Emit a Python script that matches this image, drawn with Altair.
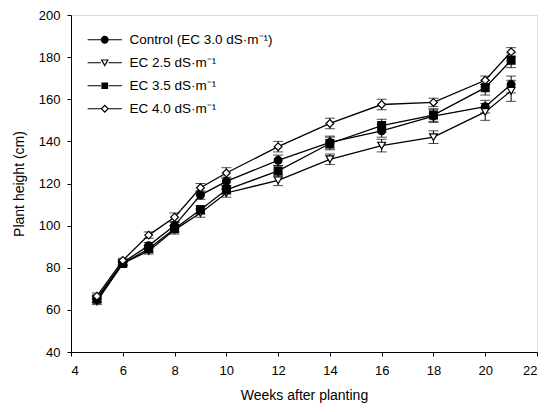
import altair as alt
import pandas as pd

weeks = [5, 6, 7, 8, 9, 10, 12, 14, 16, 18, 20, 21]
series_names = ["Control (EC 3.0 dS·m⁻¹)", "EC 2.5 dS·m⁻¹", "EC 3.5 dS·m⁻¹", "EC 4.0 dS·m⁻¹"]
control = [65.5, 82.5, 90.5, 100, 114.5, 121, 131, 139.5, 145, 152, 156.5, 167]
ec25 = [64, 82, 88, 98, 106, 115.5, 121.5, 131.5, 138, 142, 154, 164]
ec35 = [65, 82, 89, 98.5, 107.5, 117, 126, 139, 147.5, 152.5, 165.5, 178.5]
ec40 = [66.5, 83.5, 95.5, 104, 118, 125, 137.5, 148.5, 157.5, 158.5, 169, 182.5]
control_se = [1.5, 1, 1.5, 1.5, 2, 2, 2.5, 3, 3, 3, 3, 4]
ec25_se = [1.5, 1, 1.5, 2, 2, 2, 2.5, 2.5, 3, 3, 4, 5]
ec35_se = [1.5, 1, 1.5, 1.5, 2, 2, 2.5, 3, 3, 3, 3.5, 3.5]
ec40_se = [1.5, 1, 1.5, 2, 2, 2.5, 2.5, 2.5, 2.5, 2, 2, 2]

rows = []
for name, vals, ses in zip(series_names, [control, ec25, ec35, ec40],
                           [control_se, ec25_se, ec35_se, ec40_se]):
    for w, v, s in zip(weeks, vals, ses):
        rows.append({"week": w, "height": v, "lo": v - s, "hi": v + s, "series": name})
df = pd.DataFrame(rows)

font = "Liberation Sans"
xscale = alt.Scale(domain=[4, 22], nice=False)
yscale = alt.Scale(domain=[40, 200], nice=False)
xax = alt.Axis(values=list(range(4, 23, 2)), title="Weeks after planting", grid=False,
               labelFont=font, titleFont=font, labelFontSize=13, titleFontSize=14,
               titleFontWeight="normal", labelColor="black", titleColor="black",
               domainColor="black", tickColor="black", tickSize=4, labelPadding=8, titlePadding=11)
yax = alt.Axis(values=list(range(40, 201, 20)), title="Plant height (cm)", grid=False,
               labelFont=font, titleFont=font, labelFontSize=13, titleFontSize=14,
               titleFontWeight="normal", labelColor="black", titleColor="black",
               domainColor="black", tickColor="black", tickSize=4, labelPadding=7, titlePadding=12)

shape_scale = alt.Scale(domain=series_names, range=["circle", "triangle-down", "square", "diamond"])
fill_scale = alt.Scale(domain=series_names, range=["black", "white", "black", "white"])

# legend glyphs drawn fill-only: thin bars for the line stub, solid or ring-shaped markers
stub = "M-4.1,-0.14H-0.9V0.14H-4.1ZM0.9,-0.14H4.1V0.14H0.9Z"
legend_paths = [
    stub + "M0.95,0A0.95,0.95 0 1,1 -0.95,0A0.95,0.95 0 1,1 0.95,0Z",
    stub + "M-1,-0.8L1,-0.8L0,0.95Z" + "M-0.517,-0.52L0,0.385L0.517,-0.52Z",
    stub + "M-0.8,-0.8H0.8V0.8H-0.8Z",
    stub + "M0,-1L1,0L0,1L-1,0Z" + "M0,-0.6L-0.6,0L0,0.6L0.6,0Z",
]

base = alt.Chart(df)
x = alt.X("week:Q", scale=xscale, axis=xax)
y = alt.Y("height:Q", scale=yscale, axis=yax)

lines = base.mark_line(color="black", strokeWidth=1.3).encode(
    x=x, y=y, detail="series:N")
bars = base.mark_rule(color="black", strokeWidth=1).encode(
    x="week:Q", y="lo:Q", y2="hi:Q")
cap_lo = base.mark_tick(color="black", orient="horizontal", size=10, thickness=1).encode(
    x="week:Q", y="lo:Q")
cap_hi = base.mark_tick(color="black", orient="horizontal", size=10, thickness=1).encode(
    x="week:Q", y="hi:Q")
points = base.mark_point(stroke="black", strokeWidth=1.2, size=60, opacity=1, filled=False).encode(
    x="week:Q", y="height:Q",
    shape=alt.Shape("series:N", scale=shape_scale, legend=None),
    fill=alt.Fill("series:N", scale=fill_scale, legend=None))

legend_cfg = alt.Legend(title=None, orient="none", legendX=27, legendY=18,
                        labelFont=font, labelFontSize=13.5, labelColor="black",
                        symbolSize=70, symbolFillColor="black",
                        symbolStrokeWidth=0, symbolOpacity=1,
                        labelOffset=18, rowPadding=8, labelLimit=300)

legend_layer = base.mark_point(filled=True, color="black", opacity=0).encode(
    x="week:Q", y="height:Q",
    shape=alt.Shape("series:N", scale=alt.Scale(domain=series_names, range=legend_paths),
                    sort=series_names, legend=legend_cfg),
)

chart = alt.layer(lines, bars, cap_lo, cap_hi, points, legend_layer).resolve_scale(
    shape="independent", fill="independent"
).properties(
    width=466, height=337,
    autosize=alt.AutoSizeParams(type="none"),
    padding={"left": 63, "top": 7, "right": 9, "bottom": 52},
).configure_view(stroke="black", strokeWidth=1).configure(background="white")

chart.save("out.html", embed_options={"renderer": "svg", "actions": False})
